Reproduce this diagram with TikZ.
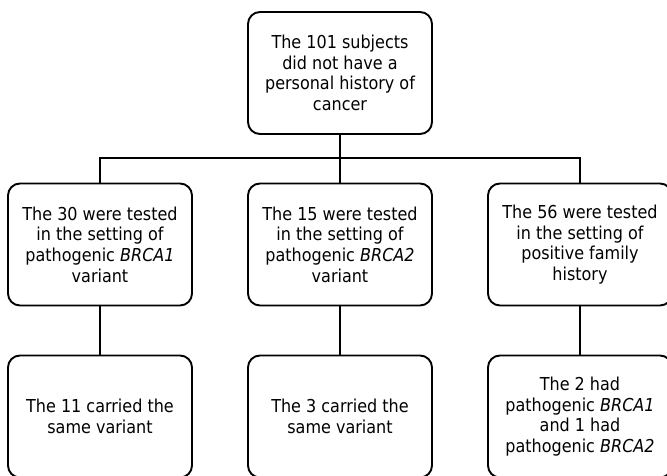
\documentclass[tikz,border=0pt]{standalone}
\usepackage{fontspec}
\setmainfont{DejaVu Sans Condensed}
\begin{document}
\begin{tikzpicture}[x=1pt,y=-1pt,
  box/.style={draw, line width=1.9pt, rounded corners=12pt, minimum width=184pt,
    minimum height=122pt, align=center, inner sep=0pt,
    font=\fontsize{17.8}{20.6}\selectfont},
  link/.style={line width=1.9pt}]
\useasboundingbox (0,0) rectangle (667,475);
\node[box] (top) at (340,73) {The 101 subjects\\did not have a\\personal history of\\cancer};
\node[box] (b1) at (100,244.5) {The 30 were tested\\in the setting of\\pathogenic \textit{BRCA1}\\variant};
\node[box] (b2) at (340,244.5) {The 15 were tested\\in the setting of\\pathogenic \textit{BRCA2}\\variant};
\node[box] (b3) at (580,244.5) {The 56 were tested\\in the setting of\\positive family\\history};
\node[box] (c1) at (100,416.5) {The 11 carried the\\same variant};
\node[box] (c2) at (340,416.5) {The 3 carried the\\same variant};
\node[box] (c3) at (580,416.5) {The 2 had\\pathogenic \textit{BRCA1}\\and 1 had\\pathogenic \textit{BRCA2}};
\coordinate (j) at (340,158);
\draw[link] (top.south) -- (j);
\draw[link] (j) -| (b1.north);
\draw[link] (j) -| (b3.north);
\draw[link] (j) -- (b2.north);
\draw[link] (b1.south) -- (c1.north);
\draw[link] (b2.south) -- (c2.north);
\draw[link] (b3.south) -- (c3.north);
\end{tikzpicture}
\end{document}
